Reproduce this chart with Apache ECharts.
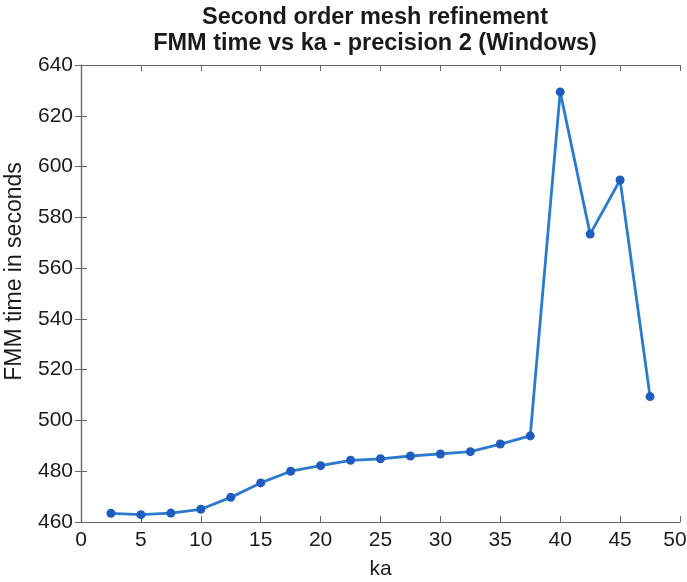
<!DOCTYPE html>
<html><head><meta charset="utf-8">
<script src="https://cdn.jsdelivr.net/npm/echarts@6/dist/echarts.min.js"></script>
<style>html,body{margin:0;padding:0;background:#fff}#c{width:687px;height:582px}</style>
</head><body><div id="c"></div>
<script>
var ka = [2.5,5,7.5,10,12.5,15,17.5,20,22.5,25,27.5,30,32.5,35,37.5,40,42.5,45,47.5];
var fmmTime = [463.4,462.9,463.5,465.0,469.7,475.4,480.0,482.2,484.3,484.9,486.0,486.8,487.7,490.7,493.9,629.4,573.4,594.7,509.4];
var xTicks = [0,5,10,15,20,25,30,35,40,45,50];
var yTicks = [460,480,500,520,540,560,580,600,620,640];
var titleLines = ['Second order mesh refinement','FMM time vs ka - precision 2 (Windows)'];
var font = 'Liberation Sans, Arial, sans-serif';
var chart = echarts.init(document.getElementById('c'));
var axisLine = {show:true, lineStyle:{color:'#666', width:1.2}};
var tick = {show:true, inside:true, length:6, lineStyle:{color:'#666'}};
chart.setOption({
  animation:false,
  title:{text:titleLines.join('\n'), left:370, top:0, textAlign:'center',
    textStyle:{fontFamily:font, fontSize:23.5, fontWeight:'bold', color:'#1a1a1a', lineHeight:26}},
  grid:{left:81, right:7, top:65, bottom:60, containLabel:false, outerBoundsMode:'none'},
  xAxis:[{type:'value', min:0, max:50, interval:5, name:'ka', nameLocation:'middle', nameGap:37,
    nameTextStyle:{fontFamily:font, fontSize:21, color:'#1a1a1a'},
    axisLine:axisLine, axisTick:tick, splitLine:{show:false},
    axisLabel:{fontFamily:font, fontSize:21, color:'#1a1a1a', margin:8,
      formatter:function(v){return v===xTicks[xTicks.length-1] ? '{e|'+v+'}' : String(v);},
      rich:{e:{fontFamily:font, fontSize:21, color:'#1a1a1a', padding:[0,10,0,0]}}}},
   {type:'value', position:'top', min:0, max:50, interval:5, axisLine:axisLine, axisTick:tick,
    axisLabel:{show:false}, splitLine:{show:false}}],
  yAxis:[{type:'value', min:460, max:640, interval:20, name:'FMM time in seconds', nameLocation:'middle', nameGap:55,
    nameTextStyle:{fontFamily:font, fontSize:23, color:'#1a1a1a', padding:[0,0,0,44]},
    axisLine:axisLine, axisTick:tick, splitLine:{show:false},
    axisLabel:{fontFamily:font, fontSize:21, color:'#1a1a1a', margin:8}},
   {type:'value', position:'right', min:460, max:640, interval:20, axisLine:axisLine, axisTick:tick,
    axisLabel:{show:false}, splitLine:{show:false}}],
  series:[{type:'line', data:ka.map(function(k,i){return [k,fmmTime[i]];}),
    symbol:'circle', symbolSize:9, lineStyle:{color:'#2a7bd0', width:2.8},
    itemStyle:{color:'#1f5cbf'}}]
});
</script></body></html>
